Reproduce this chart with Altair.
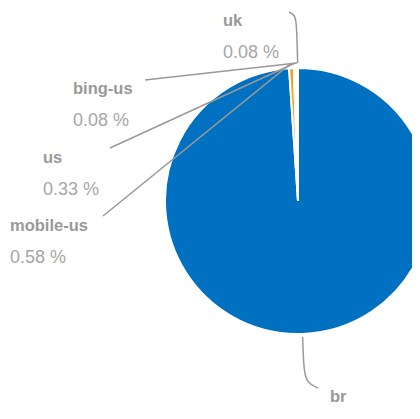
import math
import altair as alt
import pandas as pd

# ---- data ----
names = ["br", "mobile-us", "us", "bing-us", "uk"]
shares = [98.93, 0.58, 0.33, 0.08, 0.08]
colors = ["#0070C0", "#F5A21E", "#FFFFFF", "#FFFFFF", "#FFFFFF"]
show_pct = [False, True, True, True, True]

# ---- layout (chart pixel space) ----
W, H = 404, 403
CX, CY, R = 290, 193, 133
label_x = [322, 2, 35, 65, 215]
label_y = [389, 218, 150, 81, 13]
line_start = [(295, 329), (95, 208), (102, 140), (137, 72), (281, 4)]

order = list(range(len(names)))
slices = pd.DataFrame({"name": names, "share": shares, "idx": order})

# slice mid-angles (clockwise from 12 o'clock)
total = sum(shares)
mids = []
acc = 0.0
for s in shares:
    mids.append((acc + s / 2) / total * 2 * math.pi)
    acc += s

rows = []
for i, n in enumerate(names):
    a = mids[i]
    ex = CX + (R + 5) * math.sin(a)
    ey = CY - (R + 5) * math.cos(a)
    sx, sy = line_start[i]
    if n == "uk":
        pts = [(sx, sy), (sx + 6, sy + 3), (ex - 1, sy + 12), (ex, ey)]
    elif n == "br":
        pts = [(ex, ey - 2), (ex + 1, ey + 30), (ex + 4, ey + 44), (sx + 15, sy + 51)]
    else:
        pts = [(sx, sy), (ex, ey)]
    for k, (px, py) in enumerate(pts):
        rows.append({"name": n, "k": k, "px": px, "py": py})
lines = pd.DataFrame(rows)

lab_rows = []
for i, n in enumerate(names):
    lab_rows.append({"text": n, "px": label_x[i], "py": label_y[i], "kind": "name"})
    if show_pct[i]:
        lab_rows.append({"text": f"{shares[i]:.2f} %", "px": label_x[i],
                         "py": label_y[i] + 32, "kind": "pct"})
labels = pd.DataFrame(lab_rows)

xs = alt.Scale(domain=[0, W], range=[0, W], nice=False, zero=False)
ys = alt.Scale(domain=[0, H], range=[0, H], nice=False, zero=False)

pie = alt.Chart(slices).mark_arc(outerRadius=R, stroke="white", strokeWidth=2).encode(
    theta=alt.Theta("share:Q", stack=True),
    order=alt.Order("idx:Q"),
    color=alt.Color("name:N", scale=alt.Scale(domain=names, range=colors), legend=None),
    x=alt.value(CX),
    y=alt.value(CY),
)

leader = alt.Chart(lines).mark_line(color="#999999", strokeWidth=1.5, interpolate="basis").encode(
    x=alt.X("px:Q", scale=xs, axis=None),
    y=alt.Y("py:Q", scale=ys, axis=None),
    detail="name:N",
    order="k:Q",
)

name_text = alt.Chart(labels).transform_filter(alt.datum.kind == "name").mark_text(
    align="left", baseline="middle", fontSize=16.5, fontWeight="bold",
    font="Liberation Sans", color="#999999"
).encode(x=alt.X("px:Q", scale=xs, axis=None), y=alt.Y("py:Q", scale=ys, axis=None), text="text:N")

pct_text = alt.Chart(labels).transform_filter(alt.datum.kind == "pct").mark_text(
    align="left", baseline="middle", fontSize=18,
    font="Liberation Sans", color="#A6A6A6"
).encode(x=alt.X("px:Q", scale=xs, axis=None), y=alt.Y("py:Q", scale=ys, axis=None), text="text:N")

chart = alt.layer(pie, leader, name_text, pct_text).properties(
    width=W, height=H, padding=0, autosize=alt.AutoSizeParams(type="none")
).configure_view(stroke=None)

chart.save("out.html", embed_options={"renderer": "svg", "actions": False})
